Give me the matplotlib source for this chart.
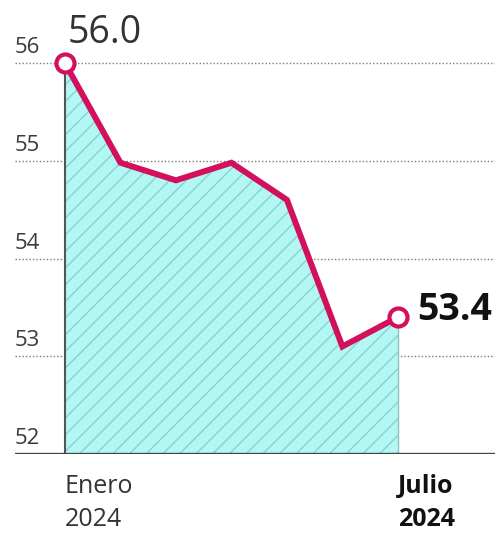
import matplotlib
matplotlib.use("Agg")
import matplotlib.pyplot as plt
import numpy as np

plt.rcParams['font.family'] = ['Open Sans', 'DejaVu Sans']
plt.rcParams['hatch.linewidth'] = 1.0

# datos: enero a julio 2024
meses = ['Ene', 'Feb', 'Mar', 'Abr', 'May', 'Jun', 'Jul']
valores = [56.0, 54.98, 54.8, 54.98, 54.6, 53.1, 53.4]
yticks = [52, 53, 54, 55, 56]

rosa = '#d3105b'
x = np.arange(len(meses))

fig = plt.figure(figsize=(4.99, 5.44), dpi=100)
ax = fig.add_axes([15/499, 90/544, 480/499, 454/544])
ax.set_xlim(-0.9, 7.75)
ax.set_ylim(52, 56.645)

# lineas de guia punteadas
for t in yticks[1:]:
    ax.axhline(t, color='#7a7a7a', lw=1.0, ls=(0, (1, 1.5)), zorder=1)
for t in yticks:
    ax.text(-0.9, t + 0.05, str(t), fontsize=16, color='#3a3a3a',
            ha='left', va='bottom')

# area rayada
ax.fill_between(x, valores, 52, facecolor='#b2f7f3', edgecolor='#86d2d2',
                hatch='//', linewidth=0, zorder=2)
ax.plot([x[0], x[0]], [52, valores[0]], color='#555555', lw=1.5, zorder=3)
ax.plot([x[-1], x[-1]], [52, valores[-1]], color='#8fbfbf', lw=1.0, zorder=3)

ax.plot(x, valores, color=rosa, lw=4.3, solid_joinstyle='miter', zorder=4)
ax.plot([x[0], x[-1]], [valores[0], valores[-1]], 'o', ms=13, mfc='white',
        mec=rosa, mew=3, zorder=5)

ax.axhline(52, color='#444444', lw=2.4, zorder=6)

ax.text(x[0] + 0.04, 56.2, f'{valores[0]:.1f}', fontsize=27, color='#333333',
        ha='left', va='baseline')
ax.text(x[-1] + 0.35, 53.37, f'{valores[-1]:.1f}', fontsize=27, color='#111111',
        fontweight='bold', ha='left', va='baseline')

ax.text(x[0], 51.8, 'Enero\n2024', fontsize=18, color='#333333', ha='left',
        va='top', linespacing=1.45)
ax.text(x[-1], 51.8, 'Julio\n2024', fontsize=18, color='#111111', ha='left',
        va='top', linespacing=1.45, fontweight='bold')

for s in ax.spines.values():
    s.set_visible(False)
ax.set_xticks([])
ax.set_yticks([])
ax.patch.set_alpha(0)

fig.savefig('out.png', dpi=100)
